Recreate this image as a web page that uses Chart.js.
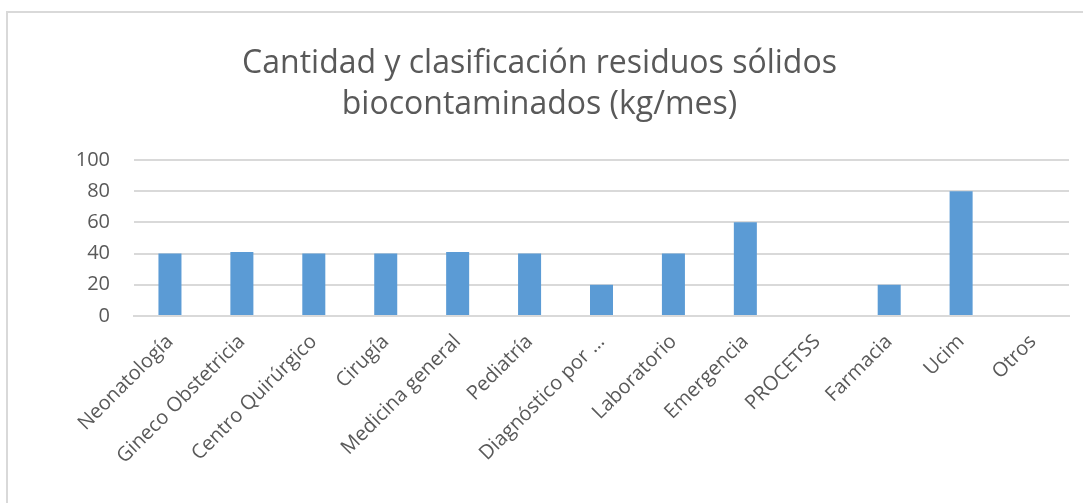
<!DOCTYPE html>
<html lang="es">
<head>
    <meta charset="UTF-8">
    <title>Cantidad y clasificación residuos sólidos biocontaminados</title>
    <style>
        body {
            margin: 0;
            background-color: #ffffff;
            font-family: "Open Sans", sans-serif;
        }
        .wrap {
            position: relative;
            width: 1083px;
            height: 503px;
        }
        .frame {
            position: absolute;
            left: 6px;
            top: 11px;
            width: 1080px;
            height: 500px;
            border: 2px solid #d9d9d9;
            pointer-events: none;
        }
        canvas {
            position: absolute;
            left: 0;
            top: 0;
        }
    </style>
</head>
<body>
    <div class="wrap">
        <canvas id="residuosChart" width="1083" height="503"></canvas>
        <div class="frame"></div>
    </div>

    <script src="https://cdn.jsdelivr.net/npm/chart.js"></script>
    <script>
        // datos
        const servicios = ['Neonatología', 'Gineco Obstetricia', 'Centro Quirúrgico', 'Cirugía',
            'Medicina general', 'Pediatría', 'Diagnóstico por …', 'Laboratorio', 'Emergencia',
            'PROCETSS', 'Farmacia', 'Ucim', 'Otros'];
        const kgMes = [40, 41, 40, 40, 41, 40, 20, 40, 60, 0, 20, 80, 0];
        const yTicks = [0, 20, 40, 60, 80, 100];

        const gris = '#595959';

        const ctx = document.getElementById('residuosChart').getContext('2d');
        new Chart(ctx, {
            type: 'bar',
            data: {
                labels: servicios,
                datasets: [{
                    label: 'kg/mes',
                    data: kgMes,
                    backgroundColor: '#5b9bd5',
                    categoryPercentage: 1,
                    barPercentage: 0.32
                }]
            },
            options: {
                responsive: false,
                animation: false,
                layout: {
                    padding: { left: 10, right: 14, top: 20, bottom: 0 }
                },
                plugins: {
                    legend: { display: false },
                    tooltip: { enabled: false },
                    title: {
                        display: true,
                        text: ['Cantidad y clasificación residuos sólidos', 'biocontaminados (kg/mes)'],
                        color: gris,
                        font: { family: 'Open Sans', size: 32, weight: 'normal', lineHeight: 1.28 },
                        padding: { top: 23, bottom: 35 }
                    }
                },
                scales: {
                    x: {
                        grid: { display: false },
                        border: { color: '#d9d9d9', width: 2 },
                        ticks: {
                            color: gris,
                            font: { family: 'Open Sans', size: 20 },
                            maxRotation: 45,
                            minRotation: 45,
                            autoSkip: false,
                            padding: 6
                        },
                        afterFit: (scale) => { scale.height = 187; }
                    },
                    y: {
                        min: 0,
                        max: 100,
                        afterBuildTicks: (scale) => {
                            scale.ticks = yTicks.map(v => ({ value: v }));
                        },
                        grid: { color: '#d9d9d9', lineWidth: 2, drawTicks: false },
                        border: { display: false },
                        ticks: {
                            color: gris,
                            font: { family: 'Open Sans', size: 20 },
                            padding: 24
                        },
                        afterFit: (scale) => { scale.width = 124; }
                    }
                }
            }
        });
    </script>
</body>
</html>
